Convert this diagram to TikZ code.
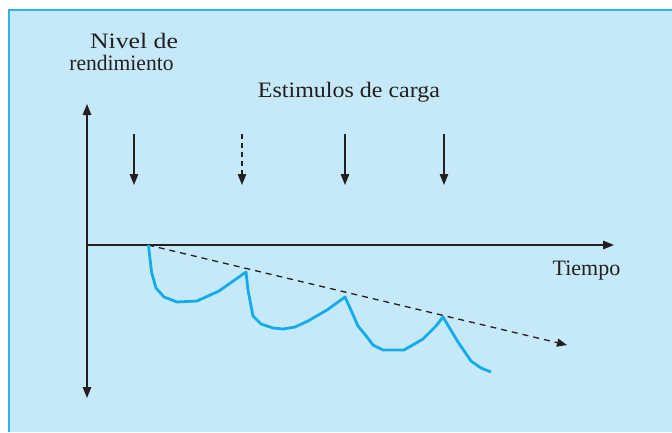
\documentclass[tikz,border=0pt]{standalone}
\usepackage{fontspec}
\setmainfont{Liberation Serif}
\usetikzlibrary{arrows.meta}
\definecolor{bgblue}{HTML}{C6E9F9}
\definecolor{frameblue}{HTML}{2AB4E9}
\definecolor{curveblue}{HTML}{12ACEB}
\definecolor{ink}{HTML}{231F20}
\tikzset{
  axisline/.style={draw=ink, line width=1.4pt, -{Triangle[length=11pt,width=8.5pt]}},
  stimarrow/.style={draw=ink, line width=1.3pt, -{Triangle[length=11pt,width=8.5pt]}},
  trendline/.style={draw=ink, line width=1.3pt, dash pattern=on 6pt off 5pt, -{Triangle[length=10pt,width=8pt]}},
  curveline/.style={draw=curveblue, line width=2.8pt, line join=round},
  lbl/.style={font=\fontsize{22}{22}\selectfont, text=ink, inner sep=0pt, anchor=base}
}
\begin{document}
\begin{tikzpicture}[x=1pt,y=-1pt]
\useasboundingbox (0,0) rectangle (672,432);
\fill[bgblue] (9,10) rectangle (672,432);
\draw[frameblue, line width=2pt] (9,432) -- (9,10) -- (672,10);
% axes
\coordinate (o) at (87,245);
\coordinate (ytop) at (87,104);
\coordinate (ybot) at (87,398);
\coordinate (xend) at (614,245);
\draw[axisline] (o) -- (ytop);
\draw[axisline] (o) -- (ybot);
\draw[axisline] (o) -- (xend);
% labels
\node[lbl] (nivel) at (134,48) {\scalebox{1.17}[1]{Nivel de}};
\node[lbl] (rend) at (121.5,70) {\scalebox{0.98}[1]{rendimiento}};
\node[lbl] (estim) at (349,97) {\scalebox{1.09}[1]{Estimulos de carga}};
\node[lbl] (tiempo) at (586.5,275) {Tiempo};
% stimulus arrows
\coordinate (s1a) at (134,134); \coordinate (s1b) at (134,185);
\coordinate (s2a) at (242,134); \coordinate (s2b) at (242,185);
\coordinate (s3a) at (345,134); \coordinate (s3b) at (345,185);
\coordinate (s4a) at (444,134); \coordinate (s4b) at (444,185);
\draw[stimarrow] (s1a) -- (s1b);
\draw[stimarrow, dash pattern=on 5pt off 4pt] (s2a) -- (s2b);
\draw[stimarrow] (s3a) -- (s3b);
\draw[stimarrow] (s4a) -- (s4b);
% trend
\coordinate (t0) at (148,245);
\coordinate (t1) at (567,345);
\draw[trendline] (t0) -- (t1);
% performance curve
\draw[curveline] (148.5,245) -- (151.5,272) -- (156,288) -- (164,297) -- (177,302)
  -- (197,301) -- (219,291) -- (246,272) -- (248,290) -- (253,316) -- (261,324)
  -- (273,328) -- (283,329) -- (295,327) -- (308,321) -- (327,310) -- (345,297)
  -- (350,308) -- (358,326) -- (367,337) -- (373,345) -- (383,350) -- (404,350)
  -- (423,339) -- (436,326) -- (443,317) -- (458,342) -- (471,361) -- (481,368) -- (491,372);
\end{tikzpicture}
\end{document}
